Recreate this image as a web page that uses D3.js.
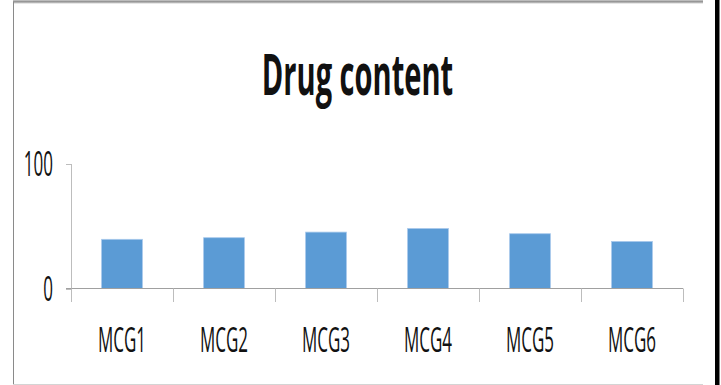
<!DOCTYPE html>
<html>
<head>
<meta charset="utf-8">
<script src="https://cdn.jsdelivr.net/npm/d3@7"></script>
<style>
  html, body { margin: 0; padding: 0; background: #fff; }
  svg { display: block; }
  text { font-family: "Open Sans", "DejaVu Sans", sans-serif; fill: #111; }
</style>
</head>
<body>
<script>
// Chart data
const categories = ["MCG1", "MCG2", "MCG3", "MCG4", "MCG5", "MCG6"];
const drugContent = [39.5, 40.8, 45.3, 48.2, 44.0, 37.8];
const yTicks = [0, 100];
const chartTitle = "Drug content";

const W = 721, H = 385;
const svg = d3.select("body").append("svg").attr("width", W).attr("height", H);

// Frame around the chart area
const grad = svg.append("defs").append("linearGradient")
  .attr("id", "topEdge").attr("x1", 0).attr("y1", 0).attr("x2", 0).attr("y2", 1);
grad.append("stop").attr("offset", "0%").attr("stop-color", "#7a7a7a");
grad.append("stop").attr("offset", "100%").attr("stop-color", "#d0d0d0");
svg.append("rect").attr("x", 13).attr("y", 0.5).attr("width", 690).attr("height", 3)
  .attr("fill", "url(#topEdge)");
svg.append("line").attr("x1", 13.5).attr("x2", 13.5).attr("y1", 2).attr("y2", 384)
  .attr("stroke", "#8a8a8a").attr("stroke-width", 1);
svg.append("line").attr("x1", 13).attr("x2", 703).attr("y1", 384.5).attr("y2", 384.5)
  .attr("stroke", "#d4d4d4").attr("stroke-width", 1);
svg.append("rect").attr("x", 715).attr("y", 0).attr("width", 4.5).attr("height", H)
  .attr("fill", "#000");

// Scales
const x = d3.scaleBand().domain(categories).range([71, 683])
  .paddingInner(0.6).paddingOuter(0.3);
const y = d3.scaleLinear().domain([0, 100]).range([288.5, 164]);

const sx = 0.5; // horizontal text compression

// Title
svg.append("text")
  .attr("transform", `translate(357.5,95) scale(${sx * 1.02},1)`)
  .attr("text-anchor", "middle")
  .attr("font-size", 57).attr("font-weight", 700)
  .text(chartTitle);

// Y axis
const yAxis = svg.append("g");
yAxis.append("line").attr("x1", 71.5).attr("x2", 71.5).attr("y1", y(100)).attr("y2", y(0))
  .attr("stroke", "#bdbdbd");
yTicks.forEach(t => {
  yAxis.append("line").attr("x1", 66).attr("x2", 71.5)
    .attr("y1", Math.round(y(t)) + 0.5).attr("y2", Math.round(y(t)) + 0.5)
    .attr("stroke", "#bdbdbd");
  yAxis.append("text")
    .attr("transform", `translate(53,${y(t) + 12}) scale(${sx},1)`)
    .attr("text-anchor", "end")
    .attr("font-size", 34)
    .text(t);
});

// Bars
svg.append("g").selectAll("rect").data(categories).join("rect")
  .attr("x", d => x(d))
  .attr("width", x.bandwidth())
  .attr("y", (d, i) => y(drugContent[i]))
  .attr("height", (d, i) => y(0) - y(drugContent[i]))
  .attr("fill", "#5b9bd5")
  .attr("stroke", "#a8c9ec")
  .attr("stroke-width", 0.8);

// X axis
const xAxis = svg.append("g");
xAxis.append("line").attr("x1", 66).attr("x2", 683).attr("y1", 288.5).attr("y2", 288.5)
  .attr("stroke", "#a0a0a0").attr("stroke-width", 1.2);
const bounds = categories.map(c => x(c) - x.step() * 0.3).concat([x.range()[1]]);
bounds.forEach(b => {
  xAxis.append("line").attr("x1", Math.round(b) + 0.5).attr("x2", Math.round(b) + 0.5)
    .attr("y1", 288.5).attr("y2", 302)
    .attr("stroke", "#bdbdbd");
});
categories.forEach(c => {
  xAxis.append("text")
    .attr("transform", `translate(${x(c) + x.bandwidth() / 2},352) scale(${sx},1)`)
    .attr("text-anchor", "middle")
    .attr("font-size", 34)
    .text(c);
});
</script>
</body>
</html>
